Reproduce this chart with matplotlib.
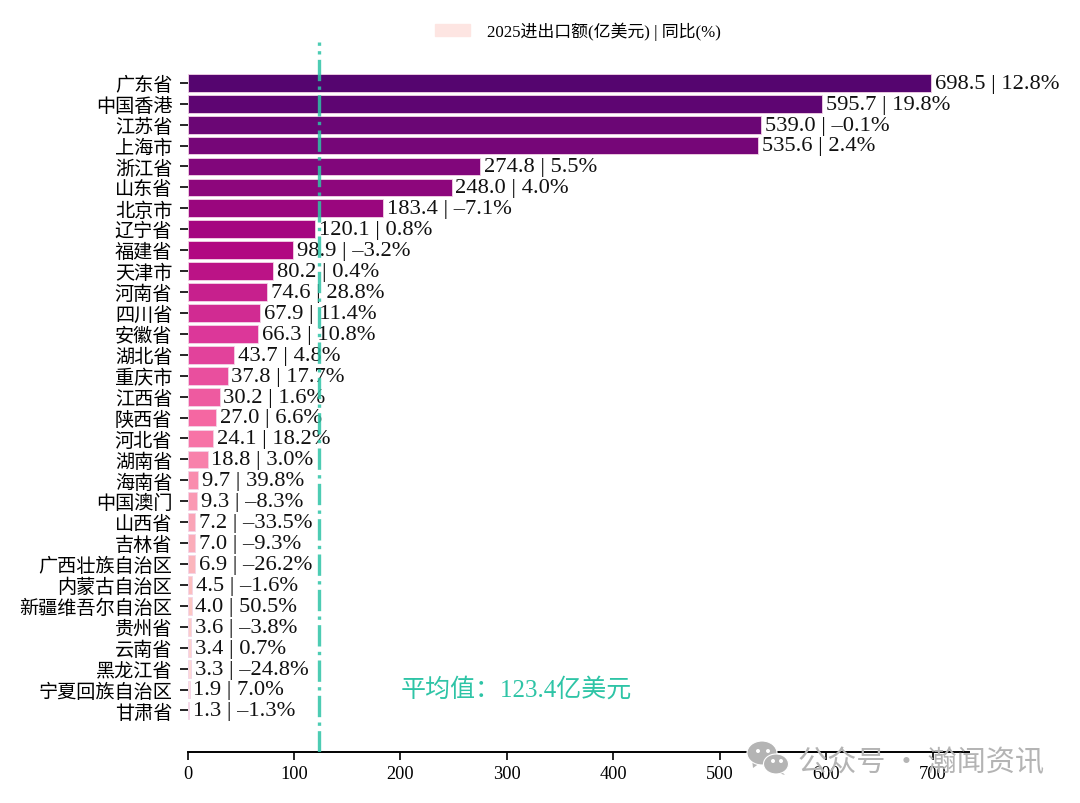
#%% imports

import numpy as np
import matplotlib
matplotlib.use('Agg')
import matplotlib.pyplot as plt
from matplotlib.patches import Ellipse, Polygon

plt.rcParams['font.family'] = ['Liberation Serif', 'Noto Sans CJK SC', 'DejaVu Sans']

#%% data

regions = ['广东省', '中国香港', '江苏省', '上海市', '浙江省', '山东省', '北京市', '辽宁省',
           '福建省', '天津市', '河南省', '四川省', '安徽省', '湖北省', '重庆市', '江西省',
           '陕西省', '河北省', '湖南省', '海南省', '中国澳门', '山西省', '吉林省', '广西壮族自治区',
           '内蒙古自治区', '新疆维吾尔自治区', '贵州省', '云南省', '黑龙江省', '宁夏回族自治区', '甘肃省']
values = [698.5, 595.7, 539.0, 535.6, 274.8, 248.0, 183.4, 120.1,
          98.9, 80.2, 74.6, 67.9, 66.3, 43.7, 37.8, 30.2,
          27.0, 24.1, 18.8, 9.7, 9.3, 7.2, 7.0, 6.9,
          4.5, 4.0, 3.6, 3.4, 3.3, 1.9, 1.3]
growth = [12.8, 19.8, -0.1, 2.4, 5.5, 4.0, -7.1, 0.8,
          -3.2, 0.4, 28.8, 11.4, 10.8, 4.8, 17.7, 1.6,
          6.6, 18.2, 3.0, 39.8, -8.3, -33.5, -9.3, -26.2,
          -1.6, 50.5, -3.8, 0.7, -24.8, 7.0, -1.3]
mean_value = 123.4
x_ticks = [0, 100, 200, 300, 400, 500, 600, 700]

#%% plot

teal = '#2ec4a6'
fig = plt.figure(figsize=(10.8, 8.04), dpi=100)
ax = fig.add_axes([187.5 / 1080, 1 - 752.5 / 804, (968.5 - 187.5) / 1080, (752.5 - 43) / 804])

ypos = np.arange(len(regions))
colors = plt.get_cmap('RdPu_r')(np.linspace(0.02, 0.9, len(regions)))
colors[:, 3] = 0.98
bars = ax.barh(ypos, values, height=0.85, color=colors, edgecolor='#f3d3e6', linewidth=0.6)

for y, v, g in zip(ypos, values, growth):
    g_text = f'{g:.1f}'.replace('-', '–')
    ax.text(v + 3.5, y + 0.02, f'{v:.1f} | {g_text}%', va='center', ha='left', fontsize=16.2, color='#111111')

ax.axvline(mean_value, color=teal, linestyle='-.', linewidth=2.4, alpha=0.85, zorder=3)
ax.text(200, 28.95, f'平均值：{mean_value}亿美元', color=teal, fontsize=18, va='center', ha='left')

ax.set_ylim(len(regions) - 1 + 1.96, -1.95)
ax.set_xlim(0, 733.4)
ax.set_yticks(ypos, regions, fontsize=13.8)
ax.set_xticks(x_ticks)
ax.tick_params(axis='x', labelsize=13.2, length=6, width=1.2)
ax.tick_params(axis='y', length=6, width=1.2, pad=5)
ax.spines['top'].set_visible(False)
ax.spines['right'].set_visible(False)
ax.spines['left'].set_visible(False)
ax.spines['bottom'].set_linewidth(1.4)

handle = plt.Rectangle((0, 0), 1, 1, color=colors[-1])
fig.legend([handle], ['2025进出口额(亿美元) | 同比(%)'], loc='center', bbox_to_anchor=(578 / 1080, 1 - 31.5 / 804),
           frameon=False, fontsize=12.2, handlelength=2.1, handletextpad=1.0)

#%% watermark

px = lambda x, y: (x / 1080, 1 - y / 804)
wm_grey = '#b4b4b4'
for (cx, cy, w, h, tail) in [(762, 754, 30, 24, [(752, 760), (760, 764), (753, 769)]),
                             (776, 765, 25, 20, [(780, 771), (785, 776), (775, 773)])]:
    fig.add_artist(Polygon([px(*p) for p in tail], transform=fig.transFigure,
                           facecolor=wm_grey, edgecolor='none', zorder=10))
    fig.add_artist(Ellipse(px(cx, cy), w / 1080, h / 804, transform=fig.transFigure,
                           facecolor=wm_grey, edgecolor='white', linewidth=0.8, zorder=10))
for (x0, y0) in [(758, 752), (768, 752), (773, 762), (781, 762)]:
    fig.add_artist(Ellipse(px(x0, y0), 4 / 1080, 4 / 804, transform=fig.transFigure,
                           facecolor='white', edgecolor='none', zorder=11))
fig.text(798 / 1080, 1 - 763 / 804, '公众号 · 瀚闻资讯', fontsize=21, color=wm_grey, va='center', ha='left',
         family=['Noto Sans CJK SC', 'DejaVu Sans'], zorder=11)

fig.savefig('out.png', dpi=100)
